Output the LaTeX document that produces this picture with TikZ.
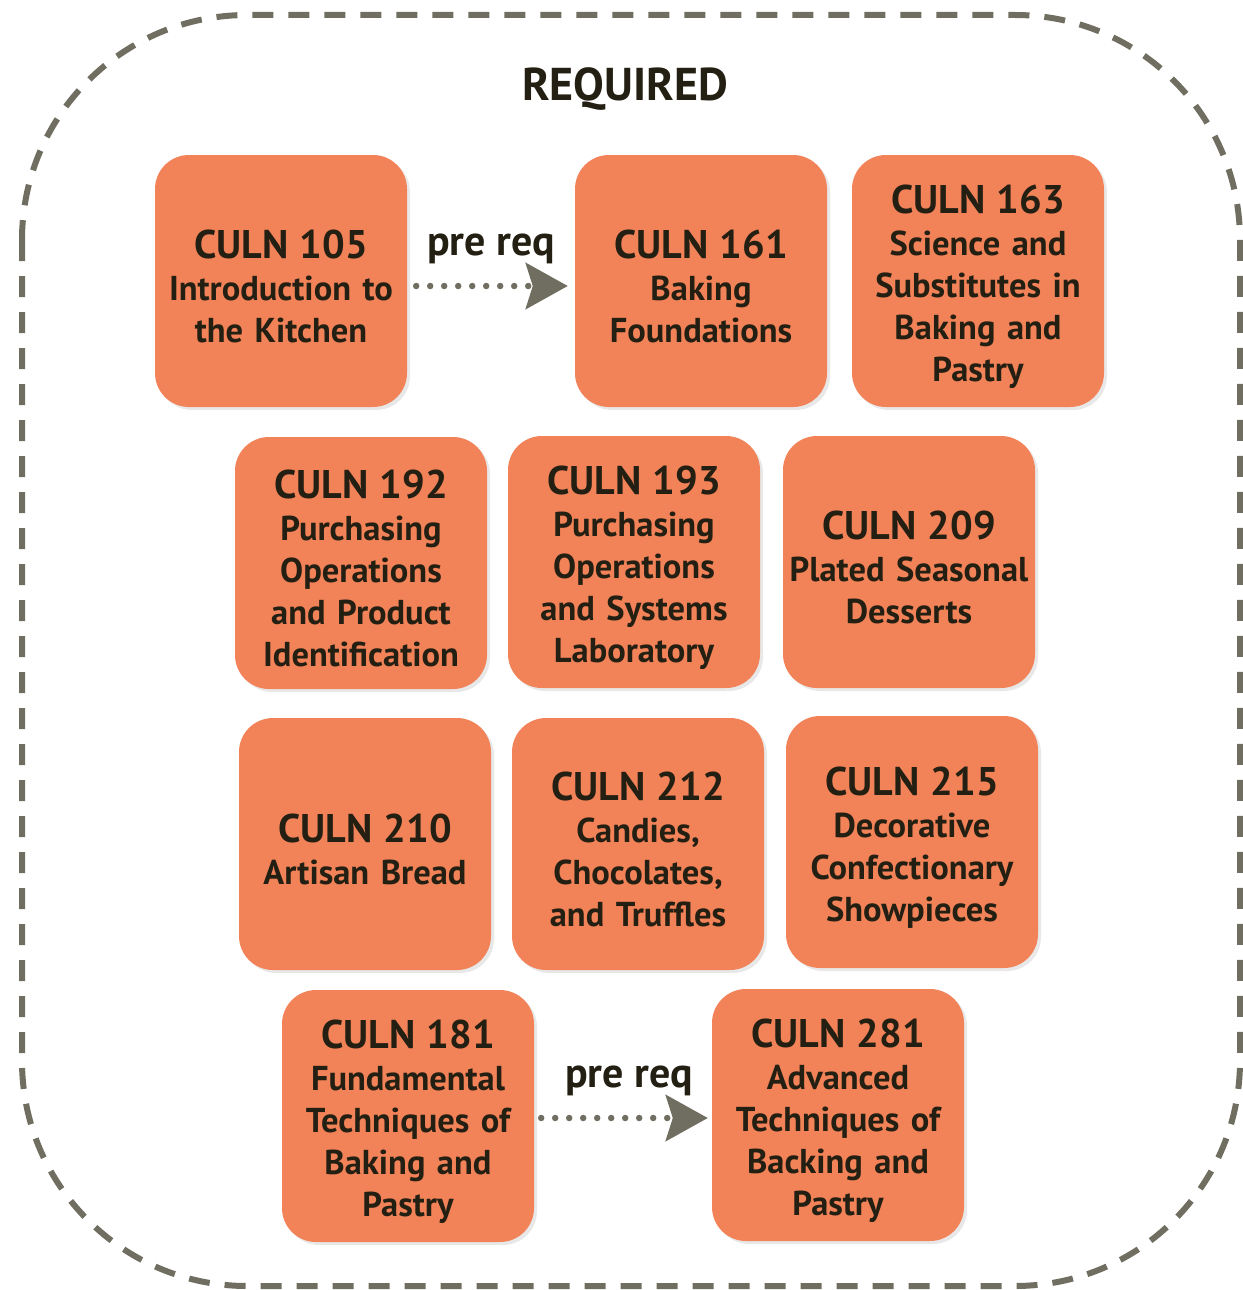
\documentclass[tikz,border=0pt]{standalone}
\usepackage{fontspec}
\setmainfont{PT Sans}
\usetikzlibrary{shadows,arrows.meta}

\definecolor{courseorange}{RGB}{242,130,88}
\definecolor{inkdark}{RGB}{35,31,18}
\definecolor{linegray}{RGB}{112,110,96}

% course number line (the strut pushes the text block a little down)
\newcommand{\cnum}[1]{{\fontsize{40}{42}\selectfont\rule{0pt}{40pt}#1}}

\tikzset{
  course/.style={fill=courseorange, rounded corners=34pt,
    minimum width=252pt, minimum height=252pt, inner sep=0pt,
    text width=250pt, align=center, text=inkdark,
    font=\fontsize{34.5}{42}\selectfont\bfseries,
    drop shadow={opacity=0.18, shadow xshift=3pt, shadow yshift=-3pt}},
  prereq/.style={draw=linegray, line width=6.5pt, line cap=round,
    dash pattern=on 0pt off 14pt,
    -{Stealth[length=42pt, width=46pt, inset=7pt]}},
  prereqtext/.style={text=inkdark, font=\fontsize{42}{44}\selectfont\bfseries,
    anchor=base, yshift=31pt},
  outline/.style={draw=linegray, line width=6pt, dash pattern=on 21pt off 15pt,
    rounded corners=225pt}
}

\begin{document}
\begin{tikzpicture}[x=1pt,y=-1pt]
    \useasboundingbox (0,0) rectangle (1242,1290);
    \draw[outline] (22,15) rectangle (1240,1286);

    \node (title) [text=inkdark, font=\fontsize{46}{50}\selectfont\bfseries] at (625,89) {REQUIRED};

    % first row
    \node[course] (c105) at (281,281) {\cnum{CULN 105}\\Introduction to\\the Kitchen};
    \node[course] (c161) at (701,281) {\cnum{CULN 161}\\Baking\\Foundations};
    \node[course] (c163) at (978,281) {\cnum{CULN 163}\\Science and\\Substitutes in\\Baking and\\Pastry};

    % second row
    \node[course] (c192) at (361,563) {\cnum{CULN 192}\\Purchasing\\Operations\\and Product\\Identification};
    \node[course] (c193) at (634,562) {\cnum{CULN 193}\\Purchasing\\Operations\\and Systems\\Laboratory};
    \node[course] (c209) at (909,562) {\cnum{CULN 209}\\Plated Seasonal\\Desserts};

    % third row
    \node[course] (c210) at (365,844) {\cnum{CULN 210}\\Artisan Bread};
    \node[course] (c212) at (638,844) {\cnum{CULN 212}\\Candies,\\Chocolates,\\and Truffles};
    \node[course] (c215) at (912,842) {\cnum{CULN 215}\\Decorative\\Confectionary\\Showpieces};

    % fourth row
    \node[course] (c181) at (408,1116) {\cnum{CULN 181}\\Fundamental\\Techniques of\\Baking and\\Pastry};
    \node[course] (c281) at (838,1115) {\cnum{CULN 281}\\Advanced\\Techniques of\\Backing and\\Pastry};

    \draw[prereq, shorten <=9pt, shorten >=7pt] (c105.east |- 0,286) -- (c161.west |- 0,286)
      node[prereqtext, midway] (pr1) {pre req};
    \draw[prereq, shorten <=7pt, shorten >=4pt] (c181.east |- 0,1118) -- (c281.west |- 0,1118)
      node[prereqtext, midway, xshift=6pt] (pr2) {pre req};
\end{tikzpicture}
\end{document}
